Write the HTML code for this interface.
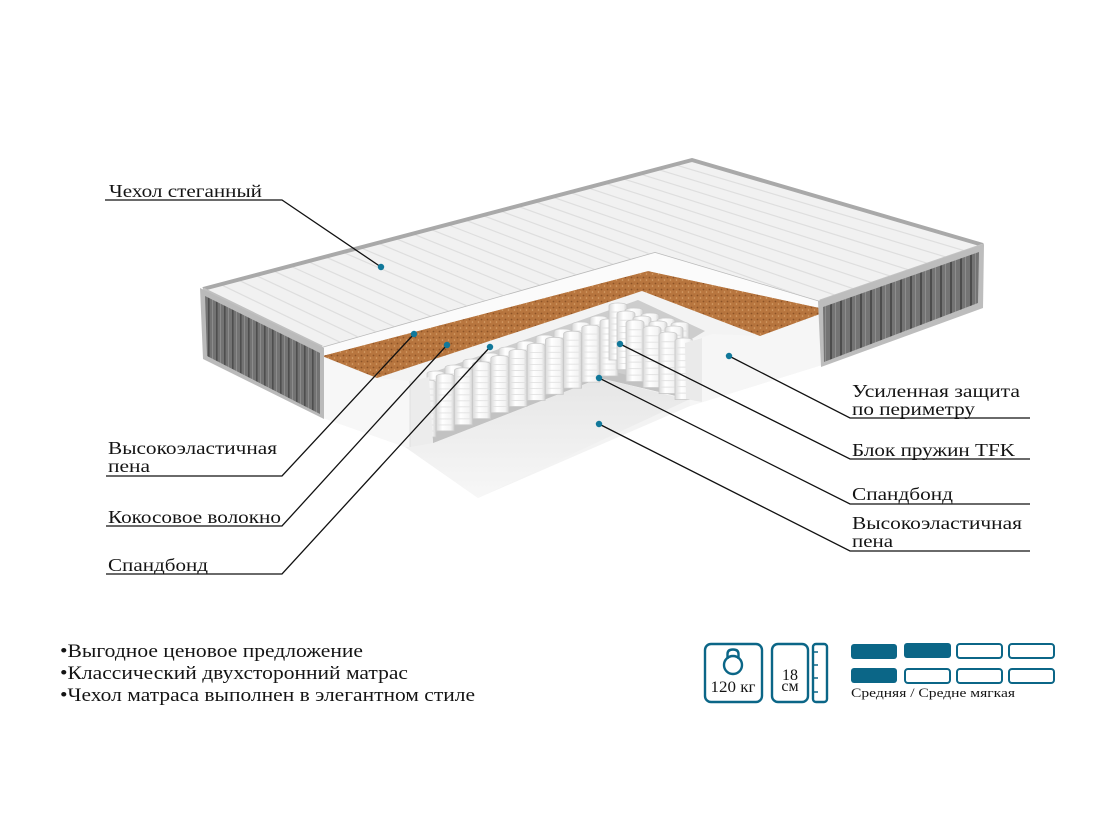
<!DOCTYPE html>
<html><head><meta charset="utf-8"><style>
html,body{margin:0;padding:0;background:#fff;width:1100px;height:814px;overflow:hidden}
svg{display:block}
text{font-family:"Liberation Serif","DejaVu Serif",serif;fill:#141414}
</style></head><body>
<svg width="1100" height="814" viewBox="0 0 1100 814" xmlns="http://www.w3.org/2000/svg">
<defs>
<pattern id="coco" width="6" height="6" patternUnits="userSpaceOnUse"><rect width="6" height="6" fill="#b8763f"/><circle cx="1.5" cy="1.5" r="0.9" fill="#8c5226"/><circle cx="4.5" cy="4" r="0.8" fill="#d6a06a"/><circle cx="4" cy="1" r="0.5" fill="#a0622f"/></pattern>
<pattern id="knit" width="8" height="4" patternUnits="userSpaceOnUse"><rect width="8" height="4" fill="#737373"/><rect x="0" width="1.6" height="4" fill="#4e4e4e"/><rect x="4" width="1" height="4" fill="#8c8c8c"/></pattern>
<pattern id="knit2" width="10" height="4" patternUnits="userSpaceOnUse"><rect width="10" height="4" fill="#747474"/><rect x="0" width="2" height="4" fill="#4c4c4c"/><rect x="5" width="1" height="4" fill="#8d8d8d"/></pattern>
<linearGradient id="cyl" x1="0" y1="0" x2="1" y2="0"><stop offset="0" stop-color="#d9d9d9"/><stop offset="0.35" stop-color="#ffffff"/><stop offset="0.8" stop-color="#f3f3f3"/><stop offset="1" stop-color="#d2d2d2"/></linearGradient>
<linearGradient id="floorg" x1="0" y1="0" x2="0" y2="1"><stop offset="0" stop-color="#e6e6e6"/><stop offset="1" stop-color="#f7f7f7"/></linearGradient>
<g id="spr">
<path d="M0,3 Q0,0 9,0 Q18,0 18,3 L18,57 L0,57 Z" fill="url(#cyl)" stroke="#c9c9c9" stroke-width="0.8"/>
<path d="M1,9 H17 M1,15 H17 M1,21 H17 M1,27 H17 M1,33 H17 M1,39 H17 M1,45 H17 M1,51 H17" stroke="#e2e2e2" stroke-width="0.9"/>
</g>
<clipPath id="topclip"><polygon points="203,289 692,160 983,245 820,301 655,252 322,347"/></clipPath>
</defs>

<!-- base silhouette -->
<polygon points="203,289 692,160 983,245 982,307 822,365 690,406 478,498 405,447 323,418 204,358" fill="#f3f3f3"/>
<!-- floor slab -->
<polygon points="405,447 433,443 600,378 688,400 478,498" fill="url(#floorg)"/>
<!-- cavity -->
<polygon points="428,374 638,300 705,331 685,343 685,398 600,378 433,443" fill="#cdcdcd"/>
<polygon points="433,443 600,378 685,398 685,390 600,368 433,433" fill="#c2c2c2"/>

<!-- springs back row long -->
<use href="#spr" transform="translate(427,371)"/>
<use href="#spr" transform="translate(445,365)"/>
<use href="#spr" transform="translate(463,359)"/>
<use href="#spr" transform="translate(481,353)"/>
<use href="#spr" transform="translate(499,347)"/>
<use href="#spr" transform="translate(517,341)"/>
<use href="#spr" transform="translate(536,335)"/>
<use href="#spr" transform="translate(554,329)"/>
<use href="#spr" transform="translate(572,322)"/>
<use href="#spr" transform="translate(590,316)"/>
<!-- springs front row long -->
<use href="#spr" transform="translate(418,380)"/>
<use href="#spr" transform="translate(436.2,373.9)"/>
<use href="#spr" transform="translate(454.4,367.8)"/>
<use href="#spr" transform="translate(472.6,361.7)"/>
<use href="#spr" transform="translate(490.8,355.6)"/>
<use href="#spr" transform="translate(509,349.5)"/>
<use href="#spr" transform="translate(527.2,343.4)"/>
<use href="#spr" transform="translate(545.4,337.3)"/>
<use href="#spr" transform="translate(563.6,331.2)"/>
<use href="#spr" transform="translate(581.8,325.1)"/>
<use href="#spr" transform="translate(600,319)"/>
<!-- right section springs -->
<use href="#spr" transform="translate(609,303)"/>
<use href="#spr" transform="translate(625,308)"/>
<use href="#spr" transform="translate(641,313)"/>
<use href="#spr" transform="translate(657,318)"/>
<use href="#spr" transform="translate(671,322)"/>
<use href="#spr" transform="translate(617,311) scale(1,1.03)"/>
<use href="#spr" transform="translate(633,316) scale(1,1.03)"/>
<use href="#spr" transform="translate(649,321) scale(1,1.03)"/>
<use href="#spr" transform="translate(665,326) scale(1,1.03)"/>
<use href="#spr" transform="translate(626,320) scale(1,1.08)"/>
<use href="#spr" transform="translate(643,326) scale(1,1.08)"/>
<use href="#spr" transform="translate(659,332) scale(1,1.08)"/>
<use href="#spr" transform="translate(675,338) scale(1,1.08)"/>

<!-- left front foam faces -->
<polygon points="322,357 377,378 410,381 410,447 405,447 323,418" fill="#f7f7f7"/>
<polygon points="410,381 429,377 433,443 410,447" fill="#ececec"/>
<line x1="410" y1="381" x2="410" y2="447" stroke="#e0e0e0" stroke-width="1"/>
<!-- right perimeter block -->
<polygon points="685,343 712,334 760,336 820,314 822,365 690,406" fill="#f6f6f6"/>
<polygon points="685,343 702,338 702,402 686,399" fill="#eaeaea"/>

<!-- coconut -->
<polygon points="322,356 648,271 820,308 820,314 760,336 642,291 377,378" fill="url(#coco)"/>
<!-- foam band under cover -->
<polygon points="322,347 655,252 820,301 820,308 648,271 322,356" fill="#fbfbfb"/>
<polyline points="322,347 655,252 820,301" fill="none" stroke="#b9b9b9" stroke-width="1.5"/>

<!-- quilted top -->
<polygon points="203,289 692,160 983,245 820,301 655,252 322,347" fill="#f1f1f1"/>
<g clip-path="url(#topclip)" stroke="#dedede" stroke-width="1.2" fill="none">
<path d="M203,289 L523,446 M220.5,284.4 L540.5,439 M237.9,279.8 L557.9,432.1 M255.4,275.2 L575.4,425.2 M272.8,270.6 L592.8,418.2 M290.3,266 L610.3,411.3 M307.8,261.4 L627.8,404.4 M325.2,256.8 L645.2,397.6 M342.7,252.1 L662.7,390.7 M360.1,247.5 L680.1,383.8 M377.6,242.9 L697.6,377 M395.1,238.3 L715.1,369.8 M412.5,233.7 L732.5,363 M430,229.1 L750,356.1 M447.4,224.5 L767.4,349.3 M464.9,219.9 L784.9,342.4 M482.4,215.3 L802.4,335.6 M499.8,210.7 L819.8,328.8 M517.3,206.1 L837.3,321.6 M534.7,201.5 L854.7,314.8 M552.2,196.9 L872.2,308 M569.7,192.3 L889.7,301.1 M587.1,187.6 L907.1,294.2 M604.6,183 L924.6,287.3 M622,178.4 L942,280.5 M639.5,173.8 L959.5,273.3 M657,169.2 L977,266.5 M674.4,164.6 L994.4,259.6"/>
</g>
<polyline points="203,289 692,160 983,245" fill="none" stroke="#a9a9a9" stroke-width="4" stroke-linejoin="round"/>
<line x1="983" y1="245" x2="820" y2="301" stroke="#c4c4c4" stroke-width="3"/>
<line x1="203" y1="289" x2="322" y2="347" stroke="#c0c0c0" stroke-width="3"/>

<!-- left gray panel -->
<polygon points="200,288 324,348 324,419 203,359" fill="#bababa"/>
<polygon points="205,296 320,353 320,414 207,356" fill="url(#knit)"/>
<!-- right gray panel -->
<polygon points="818,301 984,244 983,308 821,367" fill="#bdbdbd"/>
<polygon points="823,307 979,252 978,303 824,362" fill="url(#knit2)"/>

<!-- leader lines -->
<g fill="none" stroke="#111" stroke-width="1.3">
<polyline points="105,200 282,200 381,267"/>
<polyline points="106,476 282,476 414,334"/>
<polyline points="106,526 282,526 447,345"/>
<polyline points="106,574 282,574 490,347"/>
<polyline points="729,356 850,418 1030,418"/>
<polyline points="620,344 850,459 1030,459"/>
<polyline points="599,378 850,504 1030,504"/>
<polyline points="599,424 850,551 1030,551"/>
</g>
<g fill="#11789a">
<circle cx="381" cy="267" r="3.2"/>
<circle cx="414" cy="334" r="3.2"/>
<circle cx="447" cy="345" r="3.2"/>
<circle cx="490" cy="347" r="3.2"/>
<circle cx="729" cy="356" r="3.2"/>
<circle cx="620" cy="344" r="3.2"/>
<circle cx="599" cy="378" r="3.2"/>
<circle cx="599" cy="424" r="3.2"/>
</g>

<!-- labels -->
<g font-size="18">
<text x="109" y="197" textLength="153" lengthAdjust="spacingAndGlyphs">Чехол стеганный</text>
<text x="108" y="454" textLength="169" lengthAdjust="spacingAndGlyphs">Высокоэластичная</text>
<text x="108" y="472" textLength="42" lengthAdjust="spacingAndGlyphs">пена</text>
<text x="108" y="523" textLength="173" lengthAdjust="spacingAndGlyphs">Кокосовое волокно</text>
<text x="108" y="571" textLength="100" lengthAdjust="spacingAndGlyphs">Спандбонд</text>
<text x="852" y="397" textLength="168" lengthAdjust="spacingAndGlyphs">Усиленная защита</text>
<text x="852" y="415" textLength="123" lengthAdjust="spacingAndGlyphs">по периметру</text>
<text x="852" y="456" textLength="163" lengthAdjust="spacingAndGlyphs">Блок пружин TFK</text>
<text x="852" y="500" textLength="101" lengthAdjust="spacingAndGlyphs">Спандбонд</text>
<text x="852" y="529" textLength="170" lengthAdjust="spacingAndGlyphs">Высокоэластичная</text>
<text x="852" y="547" textLength="41" lengthAdjust="spacingAndGlyphs">пена</text>
</g>
<g font-size="18.5">
<text x="60" y="657" textLength="303" lengthAdjust="spacingAndGlyphs">•Выгодное ценовое предложение</text>
<text x="60" y="679" textLength="348" lengthAdjust="spacingAndGlyphs">•Классический двухсторонний матрас</text>
<text x="60" y="701" textLength="415" lengthAdjust="spacingAndGlyphs">•Чехол матраса выполнен в элегантном стиле</text>
</g>

<!-- icons -->
<g fill="none" stroke="#0b6687" stroke-width="2.4">
<rect x="705" y="644" width="57" height="58" rx="6"/>
<circle cx="733" cy="665" r="9"/>
<path d="M727.5,659 V654 Q727.5,649.5 733,649.5 Q738.5,649.5 738.5,654 V659"/>
<rect x="772" y="644" width="36" height="58" rx="6"/>
<rect x="813" y="644" width="14" height="58" rx="3"/>
<path d="M813,652 H818 M813,665 H818 M813,678 H818 M813,692 H818" stroke-width="1.6"/>
<rect x="957" y="644" width="45" height="14" rx="3" stroke-width="2"/>
<rect x="1009" y="644" width="45" height="14" rx="3" stroke-width="2"/>
<rect x="905" y="669" width="45" height="14" rx="3" stroke-width="2"/>
<rect x="957" y="669" width="45" height="14" rx="3" stroke-width="2"/>
<rect x="1009" y="669" width="45" height="14" rx="3" stroke-width="2"/>
</g>
<g fill="#0b6687">
<rect x="851" y="644" width="46" height="15" rx="3"/>
<rect x="904" y="643" width="47" height="15" rx="3"/>
<rect x="851" y="668" width="46" height="15" rx="3"/>
</g>
<text x="733" y="692" font-size="16" text-anchor="middle" textLength="45" lengthAdjust="spacingAndGlyphs">120 кг</text>
<text x="790" y="680" font-size="16" text-anchor="middle">18</text>
<text x="790" y="691" font-size="16" text-anchor="middle">см</text>
<text x="851" y="697" font-size="13" textLength="164" lengthAdjust="spacingAndGlyphs">Средняя / Средне мягкая</text>
</svg>
</body></html>
